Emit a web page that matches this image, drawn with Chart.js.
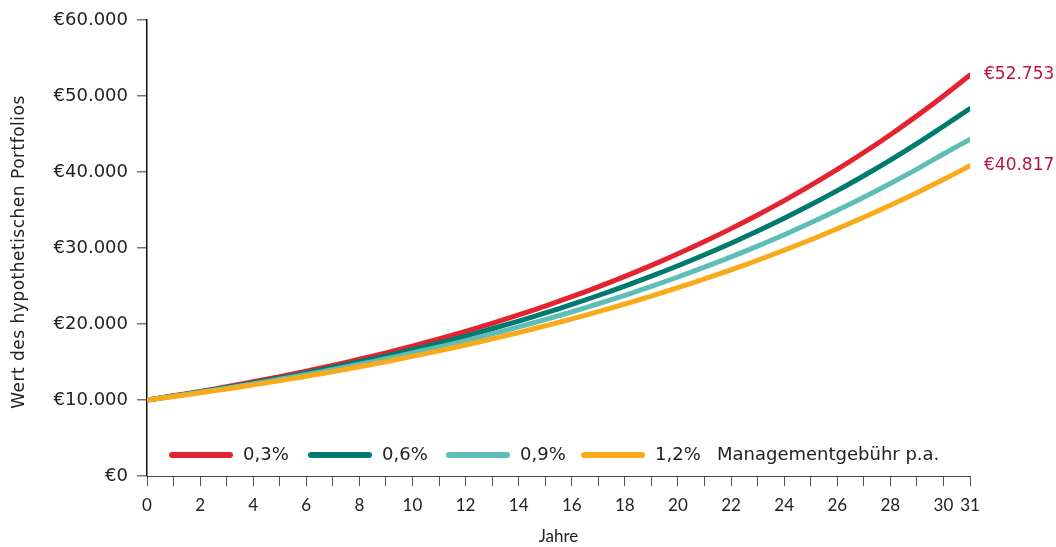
<!DOCTYPE html>
<html lang="de">
<head>
<meta charset="UTF-8">
<script src="https://cdn.jsdelivr.net/npm/chart.js@4.4.1/dist/chart.umd.min.js"></script>
<title>Portfolio</title>
<style>
  body { margin: 0; background: #fff; }
  #wrap { width: 1056px; height: 547px; }
</style>
</head>
<body>
<div id="wrap"><canvas id="myChart" width="1056" height="547"></canvas></div>
<script>
// Jahre 0..31
var years = [0,1,2,3,4,5,6,7,8,9,10,11,12,13,14,15,16,17,18,19,20,21,22,23,24,25,26,27,28,29,30,31];

// Wert des Portfolios je Managementgebühr
var fee03 = [10000,10551,11133,11746,12394,13076,13797,14557,15360,16206,17099,18042,19036,20085,21192,22360,
             23592,24892,26264,27711,29238,30849,32549,34343,36236,38233,40340,42563,44908,47383,49994,52753];
var fee06 = [10000,10522,11071,11649,12257,12897,13570,14279,15024,15808,16633,17502,18415,19377,20388,21452,
             22572,23750,24990,26295,27667,29111,30631,32230,33912,35682,37545,39505,41567,43737,46020,48350];
var fee09 = [10000,10493,11011,11554,12123,12721,13348,14006,14697,15422,16182,16980,17817,18696,19617,20585,
             21600,22665,23782,24955,26185,27476,28831,30252,31744,33309,34951,36675,38483,40380,42371,44300];
var fee12 = [10000,10464,10950,11458,11990,12546,13128,13738,14375,15042,15741,16472,17236,18036,18873,19749,
             20666,21625,22629,23679,24778,25928,27131,28391,29709,31088,32531,34041,35621,37274,39004,40817];

var seriesLabels = ['0,3%', '0,6%', '0,9%', '1,2%'];
var seriesColors = ['#e52330', '#00796f', '#5fbdb7', '#f8aa1b'];
var legendSuffix = 'Managementgebühr p.a.';
var endLabels = [{ series: 0, text: '€52.753' }, { series: 3, text: '€40.817' }];
var yTitle = 'Wert des hypothetischen Portfolios';

var yTicks = [0, 10000, 20000, 30000, 40000, 50000, 60000];

var wideFont = '"DejaVu Sans", sans-serif';
var narrowFont = 'Lato, "Noto Sans", sans-serif';
var labelRed = '#b8163f';

function toPoints(arr) {
    return arr.map(function (v, i) { return { x: years[i], y: v }; });
}
var allSeries = [fee03, fee06, fee09, fee12];

var datasets = allSeries.map(function (arr, i) {
    return {
        label: seriesLabels[i],
        data: toPoints(arr),
        borderColor: seriesColors[i],
        backgroundColor: seriesColors[i],
        borderWidth: 5,
        borderCapStyle: 'round',
        pointRadius: 0,
        tension: 0.4,
        fill: false
    };
}).reverse(); // rot oben zeichnen

function euro(v) {
    if (v === 0) return '€0';
    return '€' + String(v / 1000) + '.000';
}

// Legende, Endwerte, y-Titel
var extras = {
    id: 'extras',
    afterDraw: function (chart) {
        var c = chart.ctx, a = chart.chartArea;
        var xs = chart.scales.x, ys = chart.scales.y;
        c.save();
        c.textBaseline = 'middle';
        // y-Titel
        c.save();
        c.translate(20, (a.top + a.bottom) / 2 + 4);
        c.rotate(-Math.PI / 2);
        c.textAlign = 'center';
        c.font = '17px ' + wideFont;
        c.letterSpacing = '0.5px';
        c.fillStyle = '#222';
        c.fillText(yTitle, 0, 0);
        c.restore();
        // Endwerte
        c.font = '17px ' + wideFont;
        c.fillStyle = labelRed;
        c.textAlign = 'left';
        endLabels.forEach(function (e) {
            var arr = allSeries[e.series];
            var px = xs.getPixelForValue(years[years.length - 1]);
            var py = ys.getPixelForValue(arr[arr.length - 1]);
            c.fillText(e.text, px + 14, py);
        });
        // Legende
        var ly = a.bottom - 21;
        var x = a.left + 25;
        var gaps = [139, 138, 135, 0];
        c.font = '18px ' + wideFont;
        c.fillStyle = '#222';
        for (var i = 0; i < seriesLabels.length; i++) {
            c.strokeStyle = seriesColors[i];
            c.lineWidth = 6;
            c.lineCap = 'round';
            c.beginPath();
            c.moveTo(x, ly);
            c.lineTo(x + 58, ly);
            c.stroke();
            c.fillText(seriesLabels[i], x + 71, ly);
            x += gaps[i];
        }
        c.fillText(legendSuffix, x + 133, ly);
        c.restore();
    }
};

var ctx = document.getElementById('myChart').getContext('2d');
var myChart = new Chart(ctx, {
    type: 'line',
    data: { datasets: datasets },
    plugins: [extras],
    options: {
        responsive: false,
        animation: false,
        layout: { padding: { left: 0, right: 86, top: 20, bottom: 0 } },
        plugins: { legend: { display: false }, tooltip: { enabled: false } },
        scales: {
            x: {
                type: 'linear',
                min: 0,
                max: 31,
                afterFit: function (s) { s.height = 71; },
                afterBuildTicks: function (s) {
                    s.ticks = years.map(function (y) { return { value: y }; });
                },
                ticks: {
                    autoSkip: false,
                    maxRotation: 0,
                    padding: 9,
                    color: '#222',
                    font: { family: narrowFont, size: 17 },
                    callback: function (v) {
                        return (v % 2 === 0 || v === 31) ? String(v) : '';
                    }
                },
                grid: { drawOnChartArea: false, drawTicks: true, tickLength: 10, color: '#555', lineWidth: 1 },
                border: { display: true, color: '#444', width: 1 },
                title: { display: true, text: 'Jahre', color: '#222', font: { family: narrowFont, size: 17 }, padding: { top: 8, bottom: 0 } }
            },
            y: {
                min: 0,
                max: 60000,
                afterFit: function (s) { s.width = 147; },
                afterBuildTicks: function (s) {
                    s.ticks = yTicks.map(function (v) { return { value: v }; });
                },
                ticks: {
                    padding: 9,
                    color: '#222',
                    font: { family: wideFont, size: 18 },
                    callback: function (v) { return euro(v); }
                },
                grid: { drawOnChartArea: false, drawTicks: true, tickLength: 10, color: '#777', lineWidth: 1.5 },
                border: { display: true, color: '#111', width: 1.5 },
                title: { display: false }
            }
        }
    }
});
</script>
</body>
</html>
